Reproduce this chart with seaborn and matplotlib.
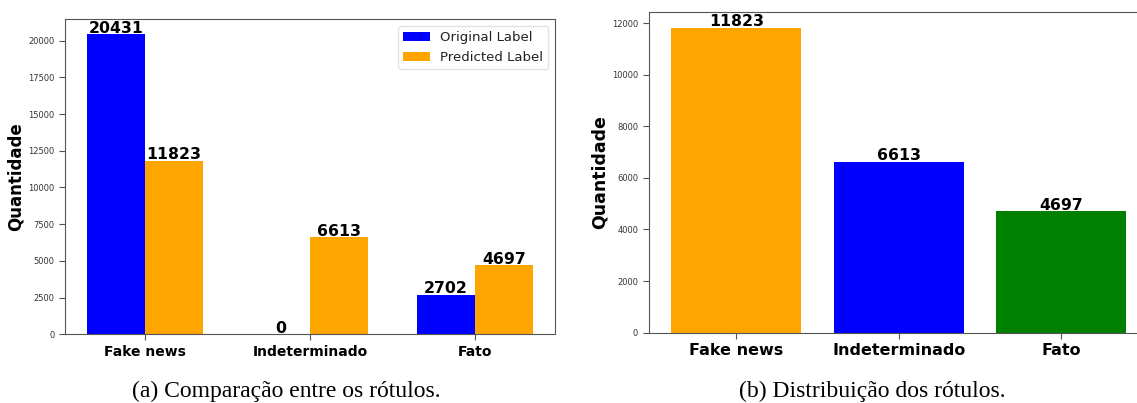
import matplotlib
matplotlib.use("Agg")
import matplotlib.pyplot as plt
import seaborn as sns
import pandas as pd

# dados
categorias = ["Fake news", "Indeterminado", "Fato"]
original = [20431, 0, 2702]
predito = [11823, 6613, 4697]
series = ["Original Label", "Predicted Label"]
cores_series = {"Original Label": "blue", "Predicted Label": "orange"}
cores_dist = {"Fake news": "orange", "Indeterminado": "blue", "Fato": "green"}

sns.set_style("ticks")
plt.rcParams["font.family"] = ["DejaVu Sans"]
plt.rcParams["text.color"] = "black"
plt.rcParams["axes.labelcolor"] = "black"
plt.rcParams["axes.edgecolor"] = "#555555"
plt.rcParams["xtick.color"] = "#555555"
plt.rcParams["ytick.color"] = "#555555"
plt.rcParams["xtick.labelcolor"] = "black"
plt.rcParams["ytick.labelcolor"] = "#333333"
plt.rcParams["xtick.major.size"] = 4
plt.rcParams["ytick.major.size"] = 4

df = pd.DataFrame({
    "categoria": categorias * 2,
    "valor": original + predito,
    "serie": [series[0]] * 3 + [series[1]] * 3,
})
df_dist = pd.DataFrame({"categoria": categorias, "valor": predito})

fig = plt.figure(figsize=(11.37, 4.03), dpi=100)

# (a) comparação
ax1 = fig.add_axes([0.0572, 0.1705, 0.431, 0.7816])
sns.barplot(data=df, x="categoria", y="valor", hue="serie", palette=cores_series,
            width=0.7, saturation=1, linewidth=0, ax=ax1)
for c in ax1.containers:
    ax1.bar_label(c, fontsize=11.3, fontweight="bold", padding=-1, color="black")
ax1.set_xlim(-0.485, 2.485)
ax1.set_ylim(0, 21452)
ax1.set_xlabel("")
ax1.set_ylabel("Quantidade", fontsize=12, fontweight="bold")
ax1.yaxis.set_label_coords(-0.082, 0.5)
ax1.tick_params(axis="y", labelsize=6)
ax1.tick_params(axis="x", labelsize=10)
for t in ax1.get_xticklabels():
    t.set_fontweight("bold")
leg = ax1.legend(fontsize=9.5, loc="upper right", frameon=True)
leg.get_frame().set_edgecolor("#dddddd")
for t in leg.get_texts():
    t.set_color("#222222")

# (b) distribuição
ax2 = fig.add_axes([0.5705, 0.1744, 0.440, 0.795])
sns.barplot(data=df_dist, x="categoria", y="valor", hue="categoria", palette=cores_dist,
            width=0.8, saturation=1, linewidth=0, legend=False, ax=ax2)
for c in ax2.containers:
    ax2.bar_label(c, fontsize=11.3, fontweight="bold", padding=-1, color="black")
ax2.set_xlim(-0.54, 2.54)
ax2.set_ylim(0, 12414)
ax2.set_xlabel("")
ax2.set_ylabel("Quantidade", fontsize=12.5, fontweight="bold")
ax2.yaxis.set_label_coords(-0.081, 0.5)
ax2.tick_params(axis="y", labelsize=6)
ax2.tick_params(axis="x", labelsize=11.5)
for t in ax2.get_xticklabels():
    t.set_fontweight("bold")

fig.text(286 / 1137, 1 - 397 / 403, "(a) Comparação entre os rótulos.",
         family="Liberation Serif", fontsize=17, ha="center", va="baseline", color="black")
fig.text(872 / 1137, 1 - 397 / 403, "(b) Distribuição dos rótulos.",
         family="Liberation Serif", fontsize=17, ha="center", va="baseline", color="black")

fig.savefig("out.png", dpi=100)
